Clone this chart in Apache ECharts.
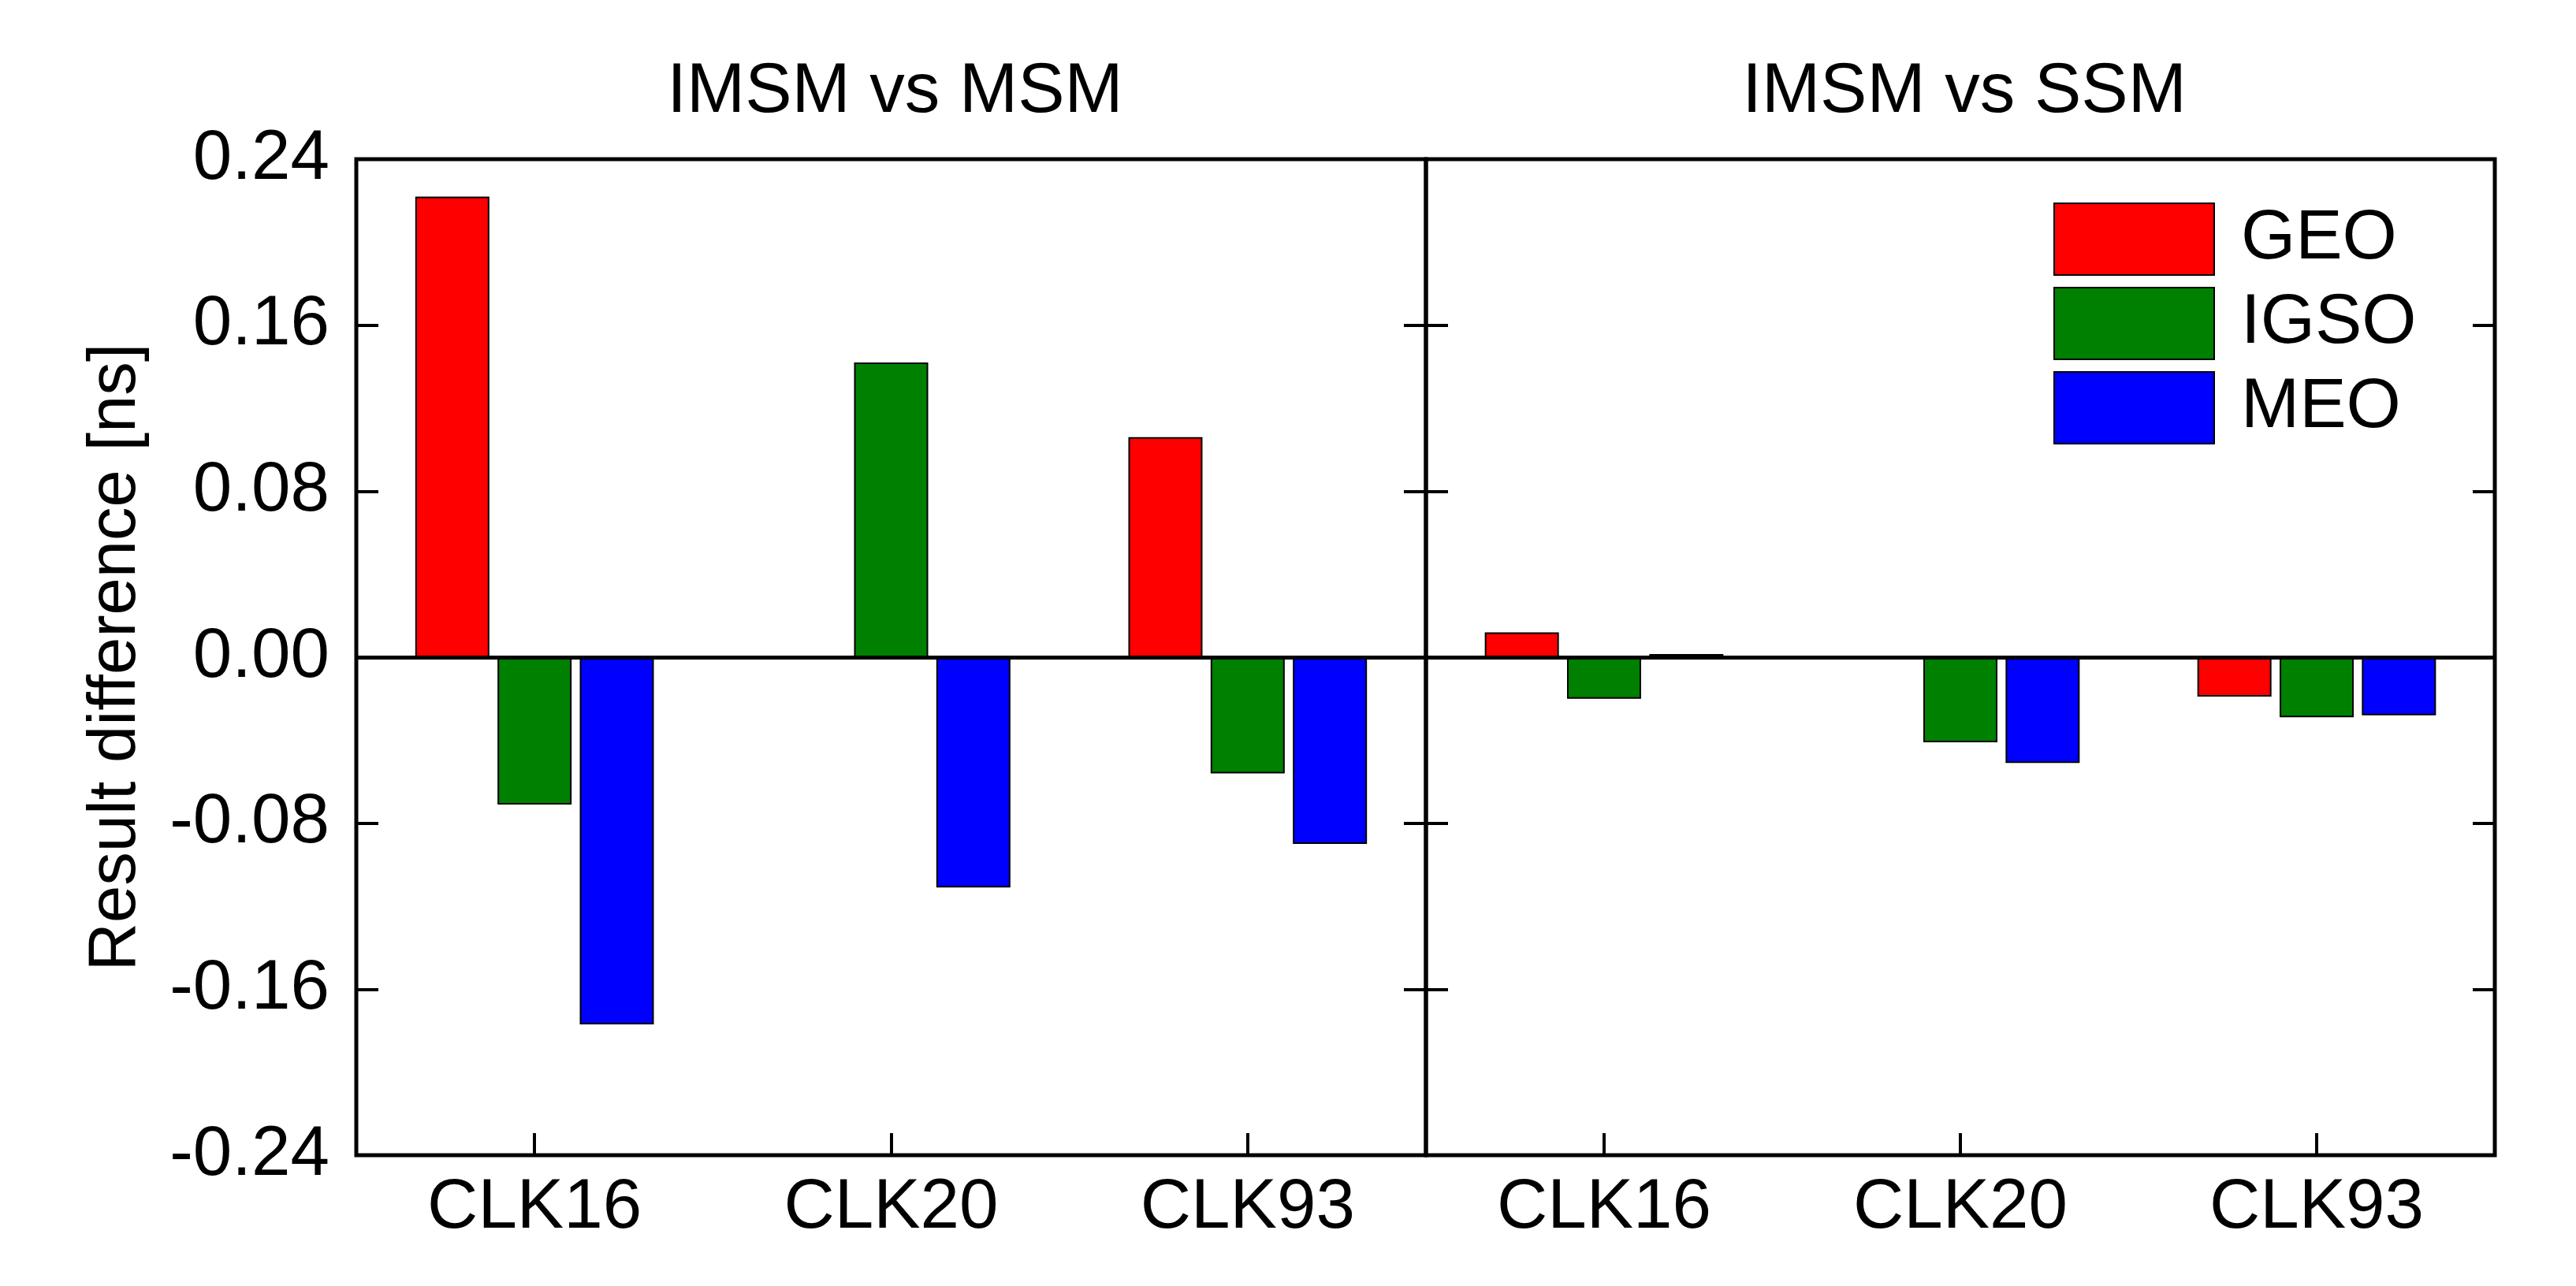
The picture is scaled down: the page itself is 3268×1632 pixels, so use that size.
<!DOCTYPE html>
<html><head><meta charset="utf-8">
<script src="https://cdn.jsdelivr.net/npm/echarts@6/dist/echarts.min.js"></script>
<style>html,body{margin:0;padding:0;background:#fff}#c{width:3268px;height:1632px}</style>
</head><body><div id="c"></div>
<script>
// ---- data ----
const categories = ['CLK16', 'CLK20', 'CLK93'];
const seriesNames = ['GEO', 'IGSO', 'MEO'];
const panelTitles = ['IMSM vs MSM', 'IMSM vs SSM'];
// IMSM vs MSM
const msmGEO  = [0.222, 0, 0.106];
const msmIGSO = [-0.071, 0.142, -0.056];
const msmMEO  = [-0.177, -0.111, -0.090];
// IMSM vs SSM
const ssmGEO  = [0.012, 0, -0.019];
const ssmIGSO = [-0.020, -0.041, -0.029];
const ssmMEO  = [0.0015, -0.051, -0.028];
const yMin = -0.24, yMax = 0.24, yStep = 0.08;
const yName = 'Result difference [ns]';

// ---- styling ----
const FONT = 'Liberation Sans, Arial, sans-serif';
const colors = ['#ff0000', '#008000', '#0000ff'];
const panels = [[msmGEO, msmIGSO, msmMEO], [ssmGEO, ssmIGSO, ssmMEO]];
const gridDefs = [
  {left: 452, right: 1459, top: 202, bottom: 166},
  {left: 1809, right: 103, top: 202, bottom: 166}
];
const fmt = v => { const r = Math.round(v * 100) / 100; return (Math.abs(r) < 1e-9 ? 0 : r).toFixed(2); };

const grid = gridDefs.map(g => Object.assign({
  show: true, borderColor: '#000', borderWidth: 5, backgroundColor: 'transparent',
  containLabel: false, outerBoundsMode: 'none'
}, g));

const tickStyle = {color: '#000', width: 4};
const xAxis = gridDefs.map((g, i) => ({
  type: 'category', gridIndex: i, data: categories, position: 'bottom',
  axisLine: {show: false, onZero: false},
  axisTick: {show: true, inside: true, alignWithLabel: true, length: 28, lineStyle: tickStyle},
  axisLabel: {margin: 23, fontSize: 89, color: '#000', fontFamily: FONT},
  splitLine: {show: false}
}));

const yAxis = [];
gridDefs.forEach((g, i) => {
  ['left', 'right'].forEach(pos => {
    const withLabels = (i === 0 && pos === 'left');
    const ax = {
      type: 'value', gridIndex: i, position: pos, min: yMin, max: yMax, interval: yStep,
      axisLine: {show: false, onZero: false},
      axisTick: {show: true, inside: true, length: 28, lineStyle: tickStyle},
      axisLabel: {show: withLabels, margin: 34, fontSize: 89, color: '#000', fontFamily: FONT, formatter: fmt},
      splitLine: {show: false}
    };
    if (withLabels) {
      ax.name = yName;
      ax.nameLocation = 'middle';
      ax.nameGap = 262;
      ax.nameTextStyle = {fontSize: 85, color: '#000', fontFamily: FONT};
    }
    yAxis.push(ax);
  });
});

const series = [];
panels.forEach((vals, i) => {
  vals.forEach((data, k) => {
    const s = {
      name: seriesNames[k], type: 'bar', xAxisIndex: i, yAxisIndex: i * 2,
      data: data, barWidth: 94, barGap: '11%',
      itemStyle: {color: colors[k], borderColor: '#000', borderWidth: 2},
      emphasis: {disabled: true}
    };
    if (k === 0) {
      s.markLine = {
        silent: true, symbol: ['none', 'none'], label: {show: false},
        lineStyle: {color: '#000', width: 5, type: 'solid'},
        data: [{yAxis: 0}]
      };
    }
    series.push(s);
  });
});

const chart = echarts.init(document.getElementById('c'), null, {renderer: 'canvas'});
chart.setOption({
  animation: false,
  backgroundColor: '#fff',
  title: panelTitles.map((t, i) => ({
    text: t, left: gridDefs[i].left + (3268 - gridDefs[i].left - gridDefs[i].right) / 2,
    top: 68, textAlign: 'center',
    textStyle: {fontSize: 89, fontWeight: 'normal', color: '#000', fontFamily: FONT}
  })),
  legend: {
    orient: 'vertical', left: 2605, top: 257, padding: 0,
    itemWidth: 203, itemHeight: 91, itemGap: 14, icon: 'rect',
    data: seriesNames,
    textStyle: {fontSize: 89, color: '#000', fontFamily: FONT, padding: [0, 0, 0, 29]}
  },
  grid, xAxis, yAxis, series
});
</script></body></html>
